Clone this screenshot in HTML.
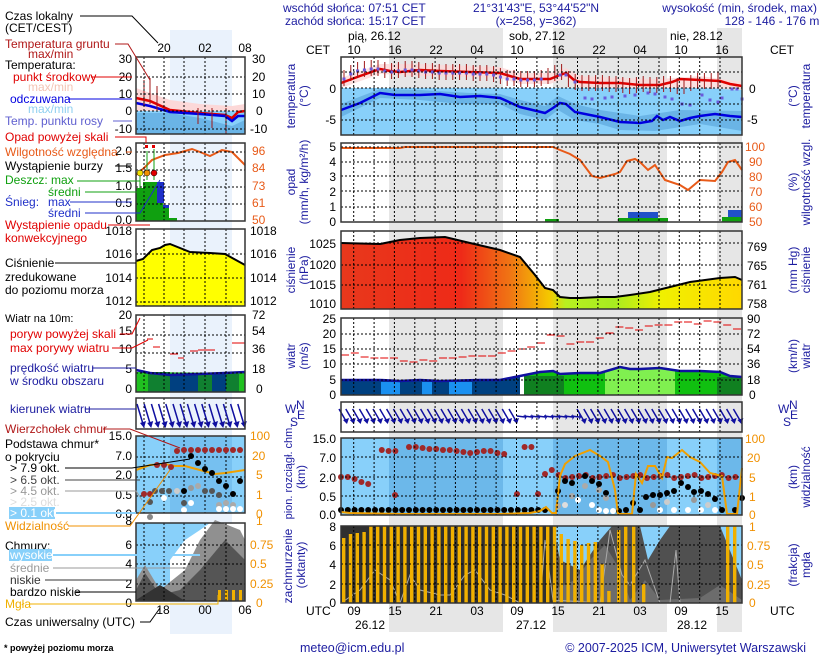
<!DOCTYPE html>
<html><head><meta charset="utf-8"><style>
html,body{margin:0;padding:0;background:#fff}
svg{display:block;font-family:"Liberation Sans",sans-serif}
</style></head><body>
<svg id="s" width="820" height="660" viewBox="0 0 820 660" xmlns="http://www.w3.org/2000/svg">
<defs>
<linearGradient id="pg" x1="0" x2="1" y1="0" y2="0">
<stop offset="0" stop-color="#e8381c"/><stop offset="0.3" stop-color="#ee2a18"/><stop offset="0.42" stop-color="#f07414"/><stop offset="0.52" stop-color="#f4c800"/><stop offset="0.56" stop-color="#b8f020"/><stop offset="0.68" stop-color="#a8ec20"/><stop offset="0.8" stop-color="#f0f000"/><stop offset="1" stop-color="#ffd800"/>
</linearGradient>
</defs>
<rect x="389" y="28" width="114" height="604" fill="#e6e6e6"/>
<rect x="553" y="28" width="114" height="604" fill="#e6e6e6"/>
<rect x="717" y="28" width="25" height="604" fill="#e6e6e6"/>
<rect x="170" y="30" width="62" height="604" fill="#eaf2fc"/>

<rect x="341" y="88" width="401" height="47" fill="#88d0fa"/>
<polygon fill="#6ab4e6" points="341,104 380,89 420,90 470,93 500,94 520,100 545,106 558,96 575,104 600,110 640,116 680,110 742,111 742,131 700,124 655,131 620,130 600,124 575,120 558,110 545,120 520,114 500,104 460,104 420,100 380,98 341,117"/>
<polygon fill="#fcd8d8" opacity="0.8" points="341,78 380,64 420,64 470,66 500,67 520,73 550,73 566,68 580,76 620,78 660,79 700,76 742,82 742,90 700,88 660,88 620,88 580,87 566,78 550,84 520,84 500,78 470,77 420,76 380,74 341,88"/>
<polyline fill="none" stroke="#e00000" stroke-width="2.5" points="341,83 360,76 380,69 390,71 400,72 420,70 440,71 470,72 500,73 520,79 550,79 560,75 566,73 574,80 580,82 600,83 620,83 640,85 660,85 672,82 680,79 700,80 720,81 730,84 742,86"/>
<polyline fill="none" stroke="#0000e0" stroke-width="2.5" points="341,110 360,103 380,93 395,95 420,95 440,94 460,97 480,96 500,98 520,107 545,113 553,108 560,103 566,104 575,112 600,117 620,122 640,123 652,121 657,116 663,120 670,117 680,121 690,118 700,116 715,114 730,116 742,117"/>
<g id="tbars"></g>
<g id="tdots"></g>
<polyline fill="none" stroke="#e85a18" stroke-width="2" points="341,148 400,148 405,147 553,147 560,150 570,154 580,160 592,176 600,178 615,174 620,172 627,161 635,159 640,162 648,170 655,165 665,180 680,185 688,190 700,180 715,181 722,172 728,162 735,160 742,170"/>
<rect x="545" y="219" width="14" height="3" fill="#10a010"/>
<rect x="628" y="212" width="30" height="10" fill="#2050c8"/>
<rect x="618" y="218" width="50" height="4" fill="#10a010"/>
<rect x="728" y="210" width="14" height="12" fill="#2050c8"/>
<rect x="722" y="217" width="20" height="5" fill="#10a010"/>
<polygon fill="url(#pg)" points="341,243 380,244 400,240 420,238 445,237 470,243 500,250 520,257 535,275 545,288 553,290 560,297 570,298 580,298 600,297 615,297 630,295 650,292 670,287 690,282 705,280 720,278 735,277 742,280 742,309 341,309"/>
<polyline fill="none" stroke="#000" stroke-width="2" points="341,243 380,244 400,240 420,238 445,237 470,243 500,250 520,257 535,275 545,288 553,290 560,297 570,298 580,298 600,297 615,297 630,295 650,292 670,287 690,282 705,280 720,278 735,277 742,280"/>
<g id="wfill"></g>
<polyline fill="none" stroke="#1010a0" stroke-width="2.5" points="341,380 360,380 380,380 400,381 420,380 440,381 480,380 500,380 520,376 540,372 553,371 560,374 580,373 600,373 620,367 630,369 640,369 660,368 680,371 700,371 720,372 730,376 742,377"/>
<g id="gusts"></g>
<g id="arrows"></g>
<rect x="341" y="438" width="401" height="77" fill="#88d0fa"/>
<rect x="389" y="438" width="114" height="77" fill="#6cb8ea"/>
<rect x="553" y="438" width="114" height="77" fill="#6cb8ea"/>
<rect x="717" y="438" width="25" height="77" fill="#6cb8ea"/>
<g id="cdots"></g>
<polyline fill="none" stroke="#f0a000" stroke-width="2" points="341,512 350,513 400,514 500,514 530,513 540,511 546,507 552,513 556,513 560,476 565,464 575,456 590,450 600,456 608,462 615,490 618,514 632,514 636,474 642,483 648,466 655,466 662,478 667,457 672,458 682,450 690,457 700,462 710,473 722,476 727,514 737,514 742,468"/>
<rect x="341" y="526" width="401" height="77" fill="#303030"/>
<polygon fill="#88d0fa" points="553,526 742,526 742,603 553,603"/>
<polygon fill="#505050" points="553,526 560,560 580,570 600,540 612,526 640,526 648,560 660,540 670,526 720,526 742,580 742,603 553,603"/>
<polygon fill="#6c6c6c" points="553,590 575,580 590,560 605,545 620,570 630,600 645,580 660,600 700,598 720,585 742,600 742,603 553,603"/>
<polyline fill="none" stroke="#aaa" stroke-width="1" points="341,603 360,590 375,570 390,580 400,603 410,575 420,590 440,595 450,595 465,575 475,570 490,590 505,595 520,603 540,603 545,540 553,600 600,603 610,530 622,575 630,585 645,560 660,603 670,603 676,550 680,603"/>
<g id="fog"></g>
<g id="grid"></g>
<g fill="none" stroke="#333" stroke-width="1.5">
<rect x="341" y="57" width="401" height="78"/><rect x="341" y="143" width="401" height="79"/><rect x="341" y="231" width="401" height="78"/><rect x="341" y="318" width="401" height="77"/><rect x="341" y="402" width="401" height="30"/><rect x="341" y="438" width="401" height="77"/><rect x="341" y="526" width="401" height="77"/>
</g>

<rect x="136" y="111" width="109" height="23" fill="#88d0fa"/>
<polygon fill="#fcd8d8" points="136,88 170,100 200,104 232,106 245,104 245,111 136,111"/>
<polygon fill="#6ab4e6" points="136,113 170,113 200,118 232,126 245,120 245,134 136,134"/>
<polyline fill="none" stroke="#e00000" stroke-width="2.5" points="136,98 150,101 170,110 200,113 225,115 232,118 238,112 245,111"/>
<polyline fill="none" stroke="#0000e0" stroke-width="2.5" points="136,103 150,106 170,112 200,114 225,116 232,121 238,116 245,116"/>
<g stroke="#a01818" stroke-width="1"><line x1="144" y1="80" x2="144" y2="106"/><line x1="150" y1="78" x2="150" y2="104"/><line x1="157" y1="86" x2="157" y2="110"/><line x1="198" y1="108" x2="198" y2="124"/><line x1="212" y1="108" x2="212" y2="128"/><line x1="226" y1="108" x2="226" y2="133"/></g>
<polyline fill="none" stroke="#e85a18" stroke-width="2" points="136,175 144,168 152,160 165,155 178,153 185,151 192,149 200,152 210,156 222,150 232,152 245,165"/>
<rect x="136" y="188" width="27" height="33" fill="#10a010"/><rect x="143" y="182" width="14" height="39" fill="#10a010"/><rect x="157" y="182" width="7" height="21" fill="#2030c8"/><rect x="163" y="205" width="6" height="16" fill="#10a010"/><rect x="163" y="205" width="6" height="3" fill="#2030c8"/><rect x="169" y="218" width="8" height="3" fill="#10a010"/>
<g stroke="#10a010"><line x1="140" y1="173" x2="140" y2="200"/><line x1="147" y1="151" x2="147" y2="180"/><line x1="154" y1="149" x2="154" y2="180"/></g>
<circle cx="140" cy="173" r="3" fill="#f0e000" stroke="#000" stroke-width="0.5"/><circle cx="147" cy="173" r="3" fill="#f09000" stroke="#000" stroke-width="0.5"/><circle cx="154" cy="173" r="3" fill="#e00000" stroke="#000" stroke-width="0.5"/>
<rect x="145" y="145" width="3" height="3" fill="#e00000"/><rect x="152" y="145" width="3" height="3" fill="#e00000"/>
<polygon fill="#ffff00" points="136,261 143,259 152,250 160,248 165,245 170,244 190,252 210,253 225,254 245,265 245,306 136,306"/>
<polyline fill="none" stroke="#000" stroke-width="2" points="136,261 143,259 152,250 160,248 165,245 170,244 190,252 210,253 225,254 245,265"/>
<polygon fill="#20c020" points="136,372 245,373 245,392 136,392"/>
<rect x="148" y="372" width="22" height="20" fill="#108030"/><rect x="170" y="374" width="28" height="18" fill="#004080"/><rect x="198" y="374" width="14" height="18" fill="#108030"/><rect x="212" y="374" width="14" height="18" fill="#004080"/><rect x="226" y="374" width="13" height="18" fill="#108030"/>
<polyline fill="none" stroke="#1010a0" stroke-width="2.5" points="136,370 150,373 170,375 200,374 225,373 245,372"/>
<g stroke="#e00000" stroke-width="1"><line x1="147" y1="339" x2="153" y2="339"/><line x1="153" y1="347" x2="160" y2="347"/><line x1="170" y1="354" x2="178" y2="354"/><line x1="178" y1="358" x2="184" y2="358"/><line x1="190" y1="351" x2="198" y2="351"/><line x1="198" y1="350" x2="215" y2="350"/><line x1="232" y1="343" x2="245" y2="343"/></g>
<rect x="136" y="436" width="109" height="77" fill="#88d0fa"/>
<rect x="170" y="436" width="62" height="77" fill="#76c0f0"/>
<polyline fill="none" stroke="#f0a000" stroke-width="2" points="136,470 150,465 165,464 175,466 185,466 200,470 215,474 225,473 245,470"/>
<rect x="136" y="523" width="109" height="78" fill="#88d0fa"/>
<polygon fill="#fff" points="170,560 185,540 200,530 210,523 245,523 245,601 170,601"/>
<polygon fill="#909090" points="136,580 145,565 160,590 185,570 200,540 215,520 240,530 245,540 245,601 136,601"/>
<polygon fill="#555" points="136,590 145,573 160,595 180,590 200,570 225,540 245,560 245,601 136,601"/>
<polygon fill="#333" points="136,600 160,585 185,601"/>
<g fill="#f0b000"><rect x="218" y="590" width="3" height="11"/><rect x="225" y="590" width="3" height="11"/><rect x="232" y="590" width="3" height="11"/><rect x="239" y="590" width="3" height="11"/></g>
<g id="lgrid"></g>
<g id="larrows"></g>
<g id="ldots"></g>
<g fill="none" stroke="#333" stroke-width="1.5">
<rect x="136" y="57" width="109" height="77"/><rect x="136" y="143" width="109" height="78"/><rect x="136" y="229" width="109" height="77"/><rect x="136" y="315" width="109" height="77"/><rect x="136" y="398" width="109" height="31"/><rect x="136" y="436" width="109" height="77"/><rect x="136" y="523" width="109" height="78"/>
</g>

<g font-size="12" fill="#1c1ca0">
<text x="283" y="12">wschód słońca: 07:51 CET</text>
<text x="285" y="25">zachód słońca: 15:17 CET</text>
<text x="536" y="12" text-anchor="middle">21°31'43"E, 53°44'52"N</text>
<text x="536" y="25" text-anchor="middle">(x=258, y=362)</text>
<text x="817" y="12" text-anchor="end">wysokość (min, środek, max)</text>
<text x="772" y="25" text-anchor="middle">128 - 146 - 176 m</text>
</g>
<g font-size="12" fill="#000">
<text x="348" y="40">pią, 26.12</text><text x="509" y="40">sob, 27.12</text><text x="670" y="40">nie, 28.12</text>
<text x="306" y="54">CET</text><text x="770" y="54">CET</text>
<g text-anchor="middle"><text x="354" y="54">10</text><text x="395" y="54">16</text><text x="436" y="54">22</text><text x="477" y="54">04</text><text x="517" y="54">10</text><text x="558" y="54">16</text><text x="599" y="54">22</text><text x="640" y="54">04</text><text x="681" y="54">10</text><text x="722" y="54">16</text>
<text x="164" y="52">20</text><text x="205" y="52">02</text><text x="245" y="52">08</text>
<text x="354" y="615">09</text><text x="395" y="615">15</text><text x="436" y="615">21</text><text x="477" y="615">03</text><text x="517" y="615">09</text><text x="558" y="615">15</text><text x="599" y="615">21</text><text x="640" y="615">03</text><text x="681" y="615">09</text><text x="722" y="615">15</text>
<text x="163" y="614">18</text><text x="205" y="614">00</text><text x="245" y="614">06</text>
<text x="370" y="629">26.12</text><text x="531" y="629">27.12</text><text x="692" y="629">28.12</text></g>
<text x="306" y="615">UTC</text><text x="770" y="615">UTC</text>
</g>
<g font-size="12" fill="#000" text-anchor="end">
<text x="336" y="93">0</text><text x="336" y="124">-5</text>
<text x="336" y="151">5</text><text x="336" y="166">4</text><text x="336" y="181">3</text><text x="336" y="196">2</text><text x="336" y="211">1</text><text x="336" y="226">0</text>
<text x="336" y="248">1025</text><text x="336" y="269">1020</text><text x="336" y="289">1015</text><text x="336" y="308">1010</text>
<text x="336" y="323">25</text><text x="336" y="338">20</text><text x="336" y="353">15</text><text x="336" y="368">10</text><text x="336" y="384">5</text><text x="336" y="399">0</text>
<text x="336" y="443">15.0</text><text x="336" y="462">7.0</text><text x="336" y="482">2.0</text><text x="336" y="501">0.5</text><text x="336" y="519">0.0</text>
<text x="336" y="531">8</text><text x="336" y="550">6</text><text x="336" y="569">4</text><text x="336" y="589">2</text><text x="336" y="607">0</text>
</g>
<g font-size="12" fill="#000">
<text x="749" y="93">0</text><text x="747" y="124">-5</text>
<g fill="#e85a18"><text x="745" y="151">100</text><text x="749" y="166">90</text><text x="749" y="181">80</text><text x="749" y="196">70</text><text x="749" y="211">60</text><text x="749" y="226">50</text></g>
<text x="747" y="251">769</text><text x="747" y="270">765</text><text x="747" y="289">761</text><text x="747" y="308">758</text>
<text x="747" y="323">90</text><text x="747" y="338">72</text><text x="747" y="353">54</text><text x="747" y="368">36</text><text x="747" y="384">18</text><text x="749" y="399">0</text>
<g fill="#f09000"><text x="745" y="443">100</text><text x="747" y="462">20</text><text x="749" y="482">5</text><text x="749" y="501">1</text><text x="749" y="519">0</text>
<text x="749" y="531">1</text><text x="747" y="550">0.75</text><text x="747" y="569">0.5</text><text x="747" y="589">0.25</text><text x="749" y="607">0</text></g>
</g>
<g font-size="12" fill="#1c1ca0" text-anchor="middle">
<text transform="translate(295,96) rotate(-90)">temperatura</text><text transform="translate(308,96) rotate(-90)">(°C)</text>
<text transform="translate(295,182) rotate(-90)">opad</text><text transform="translate(308,182) rotate(-90)">(mm/h, kg/m²/h)</text>
<text transform="translate(295,270) rotate(-90)">ciśnienie</text><text transform="translate(308,270) rotate(-90)">(hPa)</text>
<text transform="translate(295,356) rotate(-90)">wiatr</text><text transform="translate(308,356) rotate(-90)">(m/s)</text>
<text transform="translate(292,472) rotate(-90)" font-size="11">pion. rozciągł. chm.</text><text transform="translate(305,477) rotate(-90)">(km)</text>
<text transform="translate(292,566) rotate(-90)">zachmurzenie</text><text transform="translate(305,565) rotate(-90)">(oktanty)</text>
<text transform="translate(797,96) rotate(-90)">(°C)</text><text transform="translate(810,96) rotate(-90)">temperatura</text>
<text transform="translate(797,182) rotate(-90)">(%)</text><text transform="translate(810,182) rotate(-90)">wilgotność wzgl.</text>
<text transform="translate(797,270) rotate(-90)">(mm Hg)</text><text transform="translate(810,270) rotate(-90)">ciśnienie</text>
<text transform="translate(797,356) rotate(-90)">(km/h)</text><text transform="translate(810,356) rotate(-90)">wiatr</text>
<text transform="translate(797,477) rotate(-90)">(km)</text><text transform="translate(810,477) rotate(-90)">widzialność</text>
<text transform="translate(797,565) rotate(-90)">(frakcja)</text><text transform="translate(810,565) rotate(-90)">mgła</text>
</g>
<g font-size="12" fill="#1c1ca0"><text x="285" y="413">W</text><text x="296" y="409">N</text><text x="297" y="419">E</text><text x="290" y="426">S</text>
<text x="778" y="413">W</text><text x="789" y="409">N</text><text x="790" y="419">E</text><text x="783" y="426">S</text></g>

<g font-size="12">
<text x="5" y="20" fill="#000">Czas lokalny</text><text x="5" y="32" fill="#000">(CET/CEST)</text>
<text x="5" y="48" fill="#b01818">Temperatura gruntu</text><text x="28" y="58" fill="#b01818">max/min</text>
<text x="5" y="69" fill="#000">Temperatura:</text>
<text x="13" y="81" fill="#e00000">punkt środkowy</text><text x="28" y="91" fill="#f4c4b4">max/min</text>
<text x="10" y="103" fill="#0000e0">odczuwana</text><text x="28" y="113" fill="#90d0f0">max/min</text>
<text x="5" y="125" fill="#6060d0">Temp. punktu rosy</text>
<text x="5" y="141" fill="#e00000">Opad powyżej skali</text>
<text x="5" y="156" fill="#e85a18">Wilgotność względna</text>
<text x="5" y="170" fill="#000">Wystąpienie burzy</text>
<text x="5" y="184" fill="#10a010">Deszcz: max</text><text x="48" y="196" fill="#10a010">średni</text>
<text x="5" y="206" fill="#2030c8">Śnieg:</text><text x="48" y="206" fill="#2030c8">max</text><text x="48" y="217" fill="#2030c8">średni</text>
<text x="5" y="229" fill="#e00000">Wystąpienie opadu</text><text x="5" y="242" fill="#e00000">konwekcyjnego</text>
<text x="5" y="267" fill="#000">Ciśnienie</text><text x="5" y="281" fill="#000">zredukowane</text><text x="5" y="294" fill="#000">do poziomu morza</text>
<text x="5" y="322" fill="#000" font-size="11">Wiatr na 10m:</text>
<text x="10" y="338" fill="#e00000">poryw powyżej skali</text><text x="10" y="352" fill="#e00000">max porywy wiatru</text>
<text x="10" y="372" fill="#1c1ca0">prędkość wiatru</text><text x="10" y="385" fill="#1c1ca0">w środku obszaru</text>
<text x="10" y="413" fill="#1c1ca0">kierunek wiatru</text>
<text x="5" y="433" fill="#b01818">Wierzchołek chmur</text>
<text x="5" y="448" fill="#000">Podstawa chmur*</text><text x="5" y="461" fill="#000">o pokryciu</text>
<text x="10" y="472" fill="#000">&gt; 7.9 okt.</text><text x="10" y="484" fill="#444">&gt; 6.5 okt.</text><text x="10" y="495" fill="#999">&gt; 4.5 okt.</text><text x="10" y="506" fill="#ddd">&gt; 2.5 okt.</text>
<rect x="9" y="507" width="46" height="12" fill="#88d0fa"/><text x="10" y="517" fill="#fff">&gt; 0.1 okt.</text>
<text x="5" y="530" fill="#f09000">Widzialność</text>
<text x="5" y="550" fill="#000">Chmury:</text>
<rect x="9" y="549" width="43" height="12" fill="#88d0fa"/><text x="10" y="559" fill="#fff">wysokie</text>
<text x="10" y="572" fill="#999">średnie</text><text x="10" y="584" fill="#333">niskie</text><text x="10" y="596" fill="#000">bardzo niskie</text>
<text x="5" y="608" fill="#f0b000">Mgła</text>
<text x="5" y="626" fill="#000">Czas uniwersalny (UTC)</text>
<text x="4" y="651" fill="#000" font-size="9" font-weight="bold">* powyżej poziomu morza</text>
</g>
<g font-size="12" fill="#000" text-anchor="end">
<text x="132" y="63">30</text><text x="132" y="81">20</text><text x="132" y="98">10</text><text x="132" y="115">0</text><text x="132" y="133">-10</text>
<text x="132" y="155">2.0</text><text x="132" y="172">1.5</text><text x="132" y="190">1.0</text><text x="132" y="207">0.5</text><text x="132" y="224">0.0</text>
<text x="132" y="235">1018</text><text x="132" y="258">1016</text><text x="132" y="282">1014</text><text x="132" y="305">1012</text>
<text x="132" y="319">20</text><text x="132" y="335">15</text><text x="132" y="353">10</text><text x="132" y="373">5</text><text x="132" y="393">0</text>
<text x="132" y="440">15.0</text><text x="132" y="460">7.0</text><text x="132" y="479">2.0</text><text x="132" y="499">0.5</text><text x="132" y="518">0.0</text>
<text x="132" y="525">8</text><text x="132" y="549">6</text><text x="132" y="568">4</text><text x="132" y="588">2</text><text x="132" y="607">0</text>
</g>
<g font-size="12" fill="#000">
<text x="252" y="63">30</text><text x="252" y="81">20</text><text x="252" y="98">10</text><text x="256" y="115">0</text><text x="250" y="133">-10</text>
<g fill="#e85a18"><text x="252" y="155">96</text><text x="252" y="172">84</text><text x="252" y="190">73</text><text x="252" y="207">61</text><text x="252" y="224">50</text></g>
<text x="250" y="235">1018</text><text x="250" y="258">1016</text><text x="250" y="282">1014</text><text x="250" y="305">1012</text>
<text x="252" y="319">72</text><text x="252" y="335">54</text><text x="252" y="353">36</text><text x="252" y="373">18</text><text x="256" y="393">0</text>
<g fill="#f09000"><text x="250" y="440">100</text><text x="252" y="460">20</text><text x="256" y="479">5</text><text x="256" y="499">1</text><text x="256" y="518">0</text>
<text x="256" y="525">1</text><text x="250" y="549">0.75</text><text x="250" y="568">0.5</text><text x="250" y="588">0.25</text><text x="256" y="607">0</text></g>
</g>
<g fill="none" stroke-width="1">
<polyline stroke="#000" points="80,16 132,16 158,43"/>
<polyline stroke="#b01818" points="115,44 128,44 150,80"/>
<polyline stroke="#e00000" points="91,77 132,77"/>
<polyline stroke="#0000e0" points="68,99 132,99"/>
<polyline stroke="#6060d0" points="113,121 132,121"/>
<polyline stroke="#e00000" points="115,137 146,137 146,143"/>
<polyline stroke="#e85a18" points="126,152 132,152"/>
<polyline stroke="#000" points="115,166 132,166"/>
<polyline stroke="#10a010" points="77,181 140,181"/><polyline stroke="#10a010" points="85,192 150,192"/>
<polyline stroke="#2030c8" points="70,202 132,202"/><polyline stroke="#2030c8" points="85,213 140,213 160,180"/>
<polyline stroke="#e00000" points="108,225 150,225"/>
<polyline stroke="#000" points="55,263 136,263"/>
<polyline stroke="#e00000" points="120,334 132,334 140,318"/><polyline stroke="#e00000" points="112,348 132,348 148,340"/>
<polyline stroke="#1c1ca0" points="92,368 136,368"/>
<polyline stroke="#1c1ca0" points="85,409 136,409"/>
<polyline stroke="#b01818" points="103,429 130,429 180,448"/>
<polyline stroke="#000" points="65,468 132,468 190,459"/>
<polyline stroke="#444" points="65,480 140,480"/>
<polyline stroke="#999" points="65,491 136,491 142,500"/>
<polyline stroke="#88d0fa" stroke-width="2" points="56,513 136,513"/>
<polyline stroke="#f09000" points="68,526 130,526 170,470"/>
<polyline stroke="#88d0fa" stroke-width="2" points="53,555 200,555"/>
<polyline stroke="#999" points="53,568 190,568"/><polyline stroke="#333" points="45,580 132,580"/><polyline stroke="#000" points="76,592 136,592"/>
<polyline stroke="#f0b000" points="30,604 218,604 218,595"/>
<polyline stroke="#000" points="140,622 150,622 160,608"/>
</g>
<g font-size="12.5" fill="#1c1ca0"><text x="300" y="652">meteo@icm.edu.pl</text><text x="806" y="652" text-anchor="end">© 2007-2025 ICM, Uniwersytet Warszawski</text></g>
</svg>
<script>
(function(){
function add(id,html){document.getElementById(id).innerHTML+=html;}
var g="";
var panels=[[57,135,[72,88,104,120]],[143,222,[147,162,176,191,207]],[231,309,[243,265,285]],[318,395,[334,349,364,380]],[402,432,[]],[438,515,[457,477,496]],[526,603,[545,564,584]]];
panels.forEach(function(p){
 for(var k=0;k<19;k++){var x=(353.7+20.35*k).toFixed(1);g+='<line x1="'+x+'" y1="'+p[0]+'" x2="'+x+'" y2="'+p[1]+'" stroke="#000" stroke-width="1" stroke-dasharray="2,2"/>';}
 p[2].forEach(function(y){g+='<line x1="341" y1="'+y+'" x2="742" y2="'+y+'" stroke="#000" stroke-width="1" stroke-dasharray="2,2"/>';});
});
add("grid",g);
var lp=[[57,134,[77,94,111,129]],[143,221,[152,170,187,204]],[229,306,[254,278,302]],[315,392,[335,353,373]],[398,429,[]],[436,513,[457,477,496]],[523,601,[545,564,584]]];
g="";
lp.forEach(function(p){[144,164,184,205,226].forEach(function(x){g+='<line x1="'+x+'" y1="'+p[0]+'" x2="'+x+'" y2="'+p[1]+'" stroke="#000" stroke-dasharray="2,2"/>';});
 p[2].forEach(function(y){g+='<line x1="136" y1="'+y+'" x2="245" y2="'+y+'" stroke="#000" stroke-dasharray="2,2"/>';});});
add("lgrid",g);
g="";var tb=[78,73,70,69,68,68,70,71,70,69,69,70,71,71,72,72,72,72,72,73,73,73,74,76,78,78,79,79,79,78,76,73,72,79,82,83,83,83,83,84,84,85,86,85,84,85,85,84,84,86,86,83,81,81,81,80,80,81,82];
for(var i=0;i<56;i++){var x=(344+6.8*i).toFixed(1);var y=tb[i]||84;g+='<line x1="'+x+'" y1="'+(y-8)+'" x2="'+x+'" y2="'+(y+8)+'" stroke="#a01818"/>';}
add("tbars",g);
g="";var dd=[[560,75],[566,75],[575,82],[585,98],[592,99],[605,98],[612,97],[625,96],[635,95],[648,93],[655,94],[665,97],[672,99],[682,104],[690,105],[702,95],[710,100],[718,102],[722,98],[732,89],[737,89],[742,99]];
for(var i=0;i<30;i++){var x=344+6.8*i;dd.push([x,(tb[i]||73)+1]);}
dd.forEach(function(d){g+='<rect x="'+(d[0]-1.5)+'" y="'+(d[1]-1.5)+'" width="3" height="3" fill="#6a5adc"/>';});
add("tdots",g);
g='<polygon fill="#004080" points="341,380 400,381 440,381 500,380 520,376 520,395 341,395"/>';
[[381,400],[422,432],[449,472]].forEach(function(s){g+='<rect x="'+s[0]+'" y="382" width="'+(s[1]-s[0])+'" height="13" fill="#1a90f0"/>';});
g+='<polygon fill="#10c010" points="524,375 540,372 553,371 560,374 580,373 600,373 620,367 640,369 660,368 680,371 700,371 720,372 730,376 742,377 742,395 524,395"/>';
g+='<polygon fill="#80f050" points="605,372 620,367 640,369 660,368 675,370 675,395 605,395"/>';
g+='<rect x="524" y="376" width="40" height="19" fill="#108020"/><rect x="717" y="377" width="25" height="18" fill="#108020"/>';
add("wfill",g);
g="";var gu=[355,353,357,358,358,358,361,362,360,361,358,358,357,356,356,356,353,351,349,347,343,335,336,344,342,342,338,333,327,328,330,326,325,325,322,322,324,321,322,325,329];
for(var i=0;i<gu.length;i++){var x=341+9.8*i;g+='<line x1="'+x.toFixed(1)+'" y1="'+gu[i]+'" x2="'+(x+8).toFixed(1)+'" y2="'+gu[i]+'" stroke="#e00000"/>';}
add("gusts",g);
g="";
for(var i=0;i<59;i++){var x=344+6.8*i;var calm=(i>=26&&i<=34);
 if(calm){g+='<line x1="'+(x-4)+'" y1="416" x2="'+(x+4)+'" y2="417" stroke="#1010a0" stroke-width="1.5"/><polygon points="'+(x+4)+',414 '+(x+6)+',417 '+(x+4)+',420" fill="#1010a0"/>';}
 else{g+='<line x1="'+(x-5)+'" y1="409" x2="'+(x+2)+'" y2="421" stroke="#1010a0" stroke-width="1.5"/><polygon points="'+(x-1)+',420 '+(x+5)+',418 '+(x+3)+',424" fill="#1010a0"/>';}}
add("arrows",g);
g="";
for(var i=0;i<15;i++){var x=140+7.2*i;g+='<line x1="'+(x-3)+'" y1="404" x2="'+(x+3)+'" y2="424" stroke="#1010a0" stroke-width="1.5"/><polygon points="'+x+',423 '+(x+6)+',421 '+(x+4)+',428" fill="#1010a0"/>';}
add("larrows",g);
g="";function c(x,y,f){g+='<circle cx="'+x.toFixed(1)+'" cy="'+y+'" r="3" fill="'+f+'"/>';}
var red=[477,477,479,482,484,0,450,451,451,0,447,447,448,449,449,450,450,451,452,453,452,451,451,453,454,0,0,447,447,0,474,470];
for(var i=0;i<red.length;i++)if(red[i])c(341+6.8*i,red[i],"#a02828");
c(395,495,"#a02828");c(517,494,"#a02828");c(538,494,"#a02828");
for(var i=32;i<59;i++)c(341+6.8*i,476+((i*7)%4)-1,"#a02828");
for(var i=0;i<31;i++)c(341+6.8*i,510,"#000");
var rb=[[558,491,"#000"],[565,481,"#000"],[572,483,"#000"],[585,476,"#000"],[592,481,"#000"],[599,484,"#000"],[606,493,"#000"],[558,506,"#aaa"],[572,496,"#aaa"],[585,486,"#aaa"],[599,490,"#aaa"],[606,498,"#aaa"],[565,505,"#ddd"],[578,500,"#fff"],[592,505,"#fff"],[599,510,"#fff"],[606,511,"#fff"],[613,511,"#fff"],[619,511,"#000"],[626,510,"#000"],[633,503,"#000"],[640,510,"#000"],[646,497,"#000"],[653,495,"#000"],[660,495,"#000"],[667,493,"#000"],[674,491,"#000"],[681,483,"#000"],[688,487,"#000"],[694,492,"#000"],[701,491,"#000"],[708,494,"#000"],[715,499,"#000"],[722,510,"#000"],[735,510,"#000"],[742,498,"#000"],[660,510,"#fff"],[674,510,"#fff"],[688,510,"#fff"],[701,510,"#fff"],[715,510,"#fff"],[653,505,"#999"],[667,502,"#ccc"],[694,500,"#999"],[708,505,"#ccc"]];
rb.forEach(function(d){c(d[0],d[1],d[2]);});
add("cdots",g);
g="";
[[144,494,"#a02828"],[150,494,"#a02828"],[150,502,"#555"],[150,517,"#888"],[157,465,"#a02828"],[164,465,"#a02828"],[171,467,"#a02828"],[177,451,"#a02828"],[184,450,"#a02828"],[191,450,"#a02828"],[198,450,"#a02828"],[205,450,"#a02828"],[212,450,"#a02828"],[219,450,"#a02828"],[226,450,"#a02828"],[233,450,"#a02828"],[240,450,"#a02828"],[191,456,"#000"],[198,463,"#000"],[205,469,"#000"],[212,473,"#000"],[219,481,"#000"],[226,486,"#000"],[233,494,"#000"],[240,481,"#000"],[155,491,"#555"],[162,491,"#555"],[169,491,"#555"],[177,491,"#ccc"],[184,491,"#000"],[191,488,"#999"],[198,486,"#aaa"],[205,491,"#555"],[212,491,"#555"],[219,495,"#555"],[184,503,"#555"],[191,503,"#fff"],[164,498,"#fff"],[219,505,"#aaa"],[226,503,"#aaa"],[233,505,"#aaa"],[219,509,"#fff"],[226,509,"#fff"],[233,509,"#fff"],[240,509,"#fff"],[184,510,"#fff"]].forEach(function(d){c(d[0],d[1],d[2]);});
add("ldots",g);
g="";
var fb=[[0,12],[1,8],[2,7],[3,6]];for(var i=4;i<32;i++)fb.push([i,0]);fb.push([32,8],[33,13],[34,15],[35,19],[36,17],[37,16],[38,38],[39,65]);
fb.forEach(function(b){var x=342+6.8*b[0];var y=526+b[1];g+='<rect x="'+x.toFixed(1)+'" y="'+y+'" width="3.4" height="'+(603-y)+'" fill="#f0b000"/>';});
[[617,530],[624,526],[632,526],[642,584],[726,526],[733,526]].forEach(function(b){g+='<rect x="'+b[0]+'" y="'+b[1]+'" width="3.4" height="'+(603-b[1])+'" fill="#f0b000"/>';});
add("fog",g);
})();
</script>
</body></html>
